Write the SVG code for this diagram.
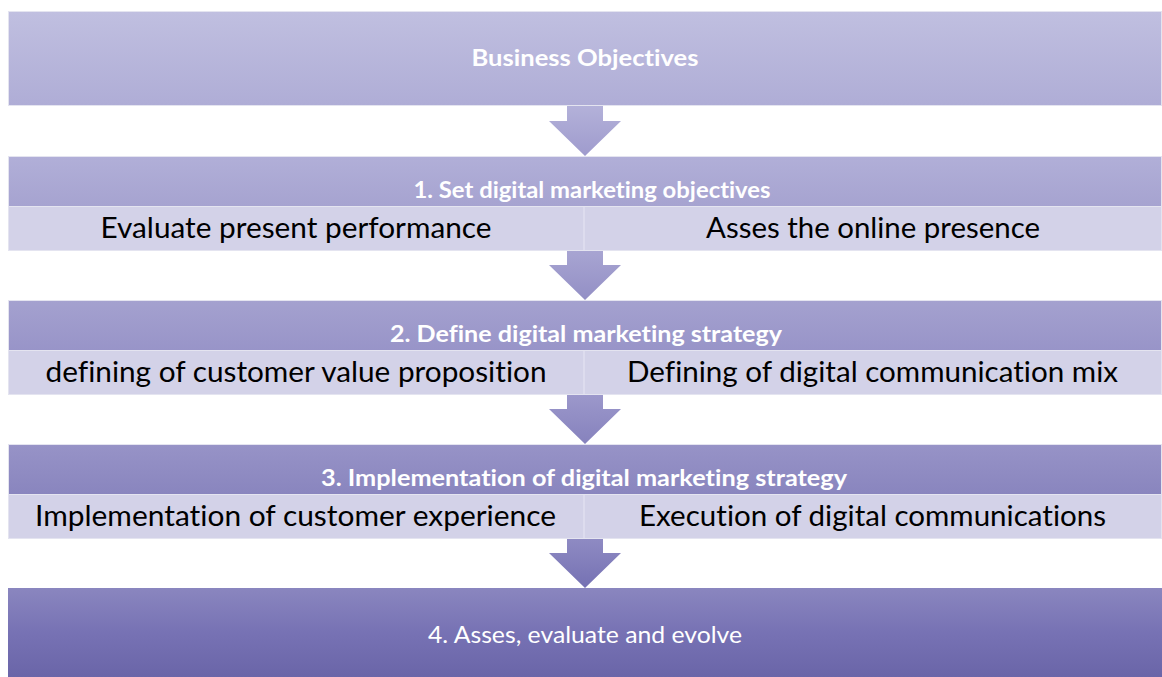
<svg xmlns="http://www.w3.org/2000/svg" width="1162" height="677" viewBox="0 0 1162 677">
  <defs>
    <linearGradient id="g-bar1" x1="0" y1="0" x2="0" y2="1">
      <stop offset="0" stop-color="#c0bfe0"/>
      <stop offset="1" stop-color="#afadd6"/>
    </linearGradient>
    <linearGradient id="g-bar2" x1="0" y1="0" x2="0" y2="1">
      <stop offset="0" stop-color="#b1afd8"/>
      <stop offset="1" stop-color="#a6a3d0"/>
    </linearGradient>
    <linearGradient id="g-bar3" x1="0" y1="0" x2="0" y2="1">
      <stop offset="0" stop-color="#a4a1cf"/>
      <stop offset="1" stop-color="#9894c8"/>
    </linearGradient>
    <linearGradient id="g-bar4" x1="0" y1="0" x2="0" y2="1">
      <stop offset="0" stop-color="#9793c7"/>
      <stop offset="1" stop-color="#8985be"/>
    </linearGradient>
    <linearGradient id="g-bar5" x1="0" y1="0" x2="0" y2="1">
      <stop offset="0" stop-color="#8a86bf"/>
      <stop offset="0.5" stop-color="#7772b4"/>
      <stop offset="1" stop-color="#6a65a8"/>
    </linearGradient>
    <linearGradient id="g-arr1" x1="0" y1="0" x2="0" y2="1">
      <stop offset="0" stop-color="#b3b1d9"/>
      <stop offset="1" stop-color="#9f9bcd"/>
    </linearGradient>
    <linearGradient id="g-arr2" x1="0" y1="0" x2="0" y2="1">
      <stop offset="0" stop-color="#a8a5d2"/>
      <stop offset="1" stop-color="#938fc5"/>
    </linearGradient>
    <linearGradient id="g-arr3" x1="0" y1="0" x2="0" y2="1">
      <stop offset="0" stop-color="#9c98cb"/>
      <stop offset="1" stop-color="#8682bd"/>
    </linearGradient>
    <linearGradient id="g-arr4" x1="0" y1="0" x2="0" y2="1">
      <stop offset="0" stop-color="#8f8bc3"/>
      <stop offset="1" stop-color="#7571b3"/>
    </linearGradient>
    <!-- down arrow: 36px shaft, 72px head, 50px tall -->
    <path id="arrow" d="M-18 0 H18 V15 H36 L0 50 L-36 15 H-18 Z"/>
  </defs>
  <style>
    text { font-variant-ligatures: none; }
    .bar { stroke: #e4e4f0; stroke-width: 1; }
    .sub { fill: #d3d2e8; stroke: #e4e4f0; stroke-width: 1; }
    .div { stroke: #e0dff0; stroke-width: 1.5; }
    .hdr { font-family: Lato, "Liberation Sans", sans-serif; font-weight: bold; font-size: 22px; fill: #ffffff; text-anchor: middle; }
    .item { font-family: Lato, "Liberation Sans", sans-serif; font-size: 28px; fill: #000000; text-anchor: middle; }
    .last { font-family: Lato, "Liberation Sans", sans-serif; font-size: 24px; fill: #ffffff; text-anchor: middle; }
  </style>

  <g id="connectors">
    <use href="#arrow" x="585" y="106" fill="url(#g-arr1)"/>
    <use href="#arrow" x="585" y="250" fill="url(#g-arr2)"/>
    <use href="#arrow" x="585" y="394" fill="url(#g-arr3)"/>
    <use href="#arrow" x="585" y="538" fill="url(#g-arr4)"/>
  </g>

  <g id="business-objectives">
    <rect class="bar" x="8.5" y="11.5" width="1153" height="94" fill="url(#g-bar1)"/>
    <text class="hdr" x="585" y="66" textLength="227" lengthAdjust="spacingAndGlyphs">Business Objectives</text>
  </g>

  <g id="step-1">
    <rect class="bar" x="8.5" y="156.5" width="1153" height="50" fill="url(#g-bar2)"/>
    <text class="hdr" x="592" y="198" textLength="357" lengthAdjust="spacingAndGlyphs">1. Set digital marketing objectives</text>
    <rect class="sub" x="8.5" y="206.5" width="1153" height="44"/>
    <line class="div" x1="584" y1="207" x2="584" y2="250"/>
    <text class="item" x="296" y="238" textLength="391" lengthAdjust="spacingAndGlyphs">Evaluate present performance</text>
    <text class="item" x="873" y="238" textLength="334" lengthAdjust="spacingAndGlyphs">Asses the online presence</text>
  </g>

  <g id="step-2">
    <rect class="bar" x="8.5" y="300.5" width="1153" height="50" fill="url(#g-bar3)"/>
    <text class="hdr" x="586" y="342" textLength="392" lengthAdjust="spacingAndGlyphs">2. Define digital marketing strategy</text>
    <rect class="sub" x="8.5" y="350.5" width="1153" height="44"/>
    <line class="div" x1="584" y1="351" x2="584" y2="394"/>
    <text class="item" x="296" y="382" textLength="501" lengthAdjust="spacingAndGlyphs">defining of customer value proposition</text>
    <text class="item" x="872.5" y="382" textLength="491" lengthAdjust="spacingAndGlyphs">Defining of digital communication mix</text>
  </g>

  <g id="step-3">
    <rect class="bar" x="8.5" y="444.5" width="1153" height="50" fill="url(#g-bar4)"/>
    <text class="hdr" x="584" y="486" textLength="526" lengthAdjust="spacingAndGlyphs">3. Implementation of digital marketing strategy</text>
    <rect class="sub" x="8.5" y="494.5" width="1153" height="44"/>
    <line class="div" x1="584" y1="495" x2="584" y2="538"/>
    <text class="item" x="295.5" y="526" textLength="521" lengthAdjust="spacingAndGlyphs">Implementation of customer experience</text>
    <text class="item" x="872.5" y="526" textLength="467" lengthAdjust="spacingAndGlyphs">Execution of digital communications</text>
  </g>

  <g id="step-4">
    <rect x="8" y="588" width="1154" height="89" fill="url(#g-bar5)"/>
    <text class="last" x="585" y="643" textLength="314" lengthAdjust="spacingAndGlyphs">4. Asses, evaluate and evolve</text>
  </g>
</svg>
